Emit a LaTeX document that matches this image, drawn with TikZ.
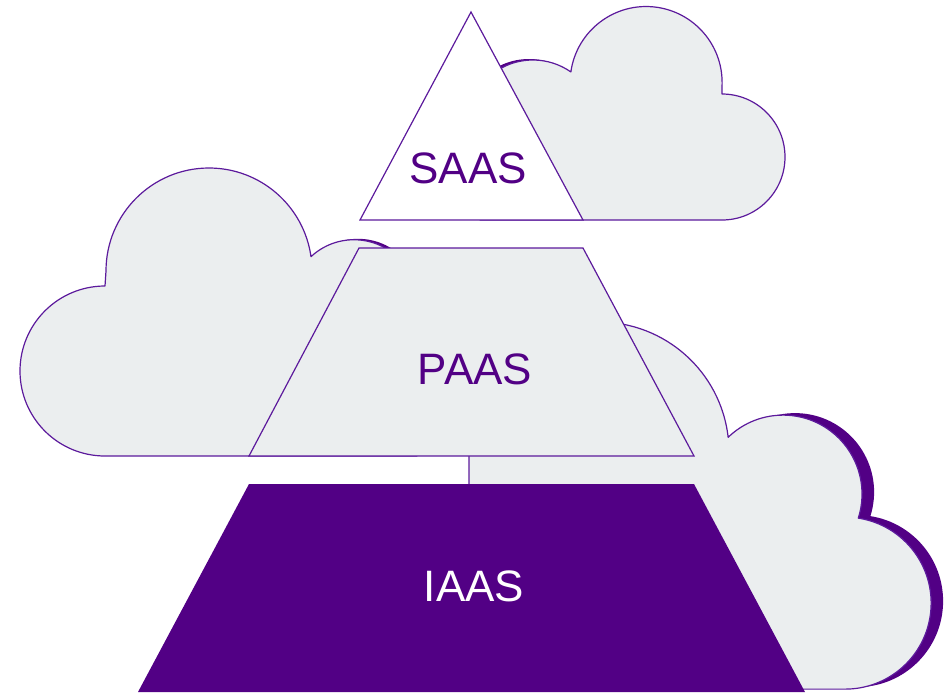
\documentclass[tikz,border=0pt]{standalone}
\usepackage{fontspec}
\setmainfont{Liberation Sans}
\definecolor{accent}{HTML}{520085}
\definecolor{edge}{HTML}{5C1A9C}
\definecolor{cloudgray}{HTML}{EBEEEF}

\begin{document}
\begin{tikzpicture}[x=0.5pt, y=0.5pt,
    cloudbody/.style={fill=cloudgray, draw=edge, line width=0.6pt, line join=round},
    cloudshadow/.style={fill=accent},
    tier/.style={draw=edge, line width=0.6pt, line join=miter},
    tiertext/.style={font=\fontsize{22}{26}\selectfont, text=accent}
  ]
  \useasboundingbox (0,0) rectangle (949,-692);

  % shadows behind the clouds
  \fill[cloudshadow] (529,-125) circle[radius=66];
  \fill[cloudshadow] (358,-301.8) circle[radius=63];
  \fill[cloudshadow] (795.1,-492.1) circle[radius=79];
  \fill[cloudshadow] (857.1,-601.1) circle[radius=86];

  % top cloud
  \draw[cloudbody] (467,-126) arc[start angle=180, end angle=55, radius=66]
    arc[start angle=172, end angle=0, radius=76]
    -- (722,-94) arc[start angle=90, end angle=-90, radius=63]
    -- (480,-220) -- cycle;

  % left cloud
  \draw[cloudbody] (105,-456) arc[start angle=270, end angle=90, radius=85]
    -- (106,-271) arc[start angle=180, end angle=8, radius=103]
    arc[start angle=133, end angle=0, radius=63]
    -- (417,-456) -- cycle;

  % bottom right cloud
  \draw[cloudbody] (469,-477) -- (469,-452)
    arc[start angle=180, end angle=6.5, radius=130]
    arc[start angle=134, end angle=-17.7, radius=79]
    arc[start angle=81.2, end angle=-90, radius=86]
    -- (469,-689) arc[start angle=270, end angle=90, radius=96] -- cycle;

  % pyramid
  \draw[tier, fill=white] (471,-12) -- (583,-220) -- (360,-220) -- cycle;
  \draw[tier, fill=cloudgray] (359,-248) -- (583,-248) -- (694,-456) -- (249,-456) -- cycle;
  \fill[accent] (249,-484) -- (694,-484) -- (805,-692) -- (138,-692) -- cycle;

  \node[tiertext] (saas) at (468,-168) {SAAS};
  \node[tiertext] (paas) at (475,-369) {PAAS};
  \node[tiertext, text=white] (iaas) at (474,-586) {IAAS};
\end{tikzpicture}
\end{document}
